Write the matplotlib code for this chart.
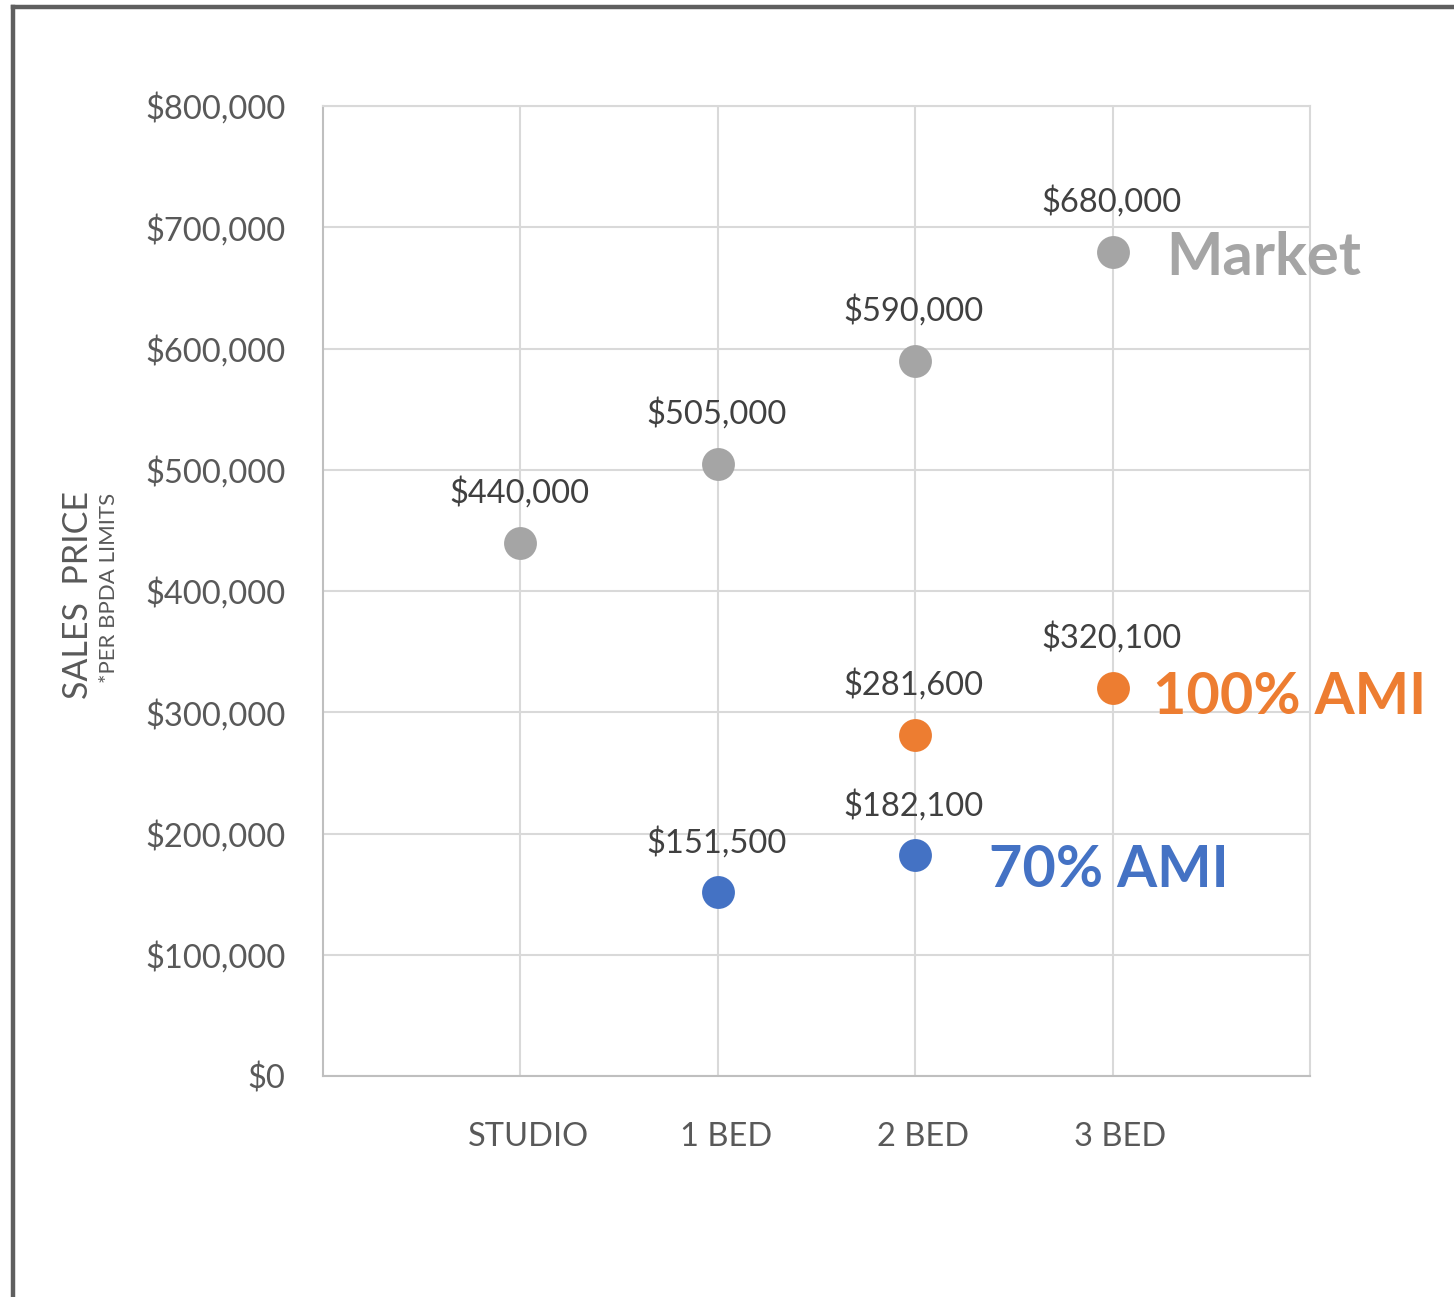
import matplotlib
matplotlib.use("Agg")
import matplotlib.pyplot as plt
import matplotlib.transforms as mtransforms
from matplotlib.lines import Line2D

plt.rcParams['font.family'] = ['Lato', 'DejaVu Sans']

categories = ["STUDIO", "1 BED", "2 BED", "3 BED"]
market_x = ["STUDIO", "1 BED", "2 BED", "3 BED"]
market_y = [440000, 505000, 590000, 680000]
ami100_x = ["2 BED", "3 BED"]
ami100_y = [281600, 320100]
ami70_x = ["1 BED", "2 BED"]
ami70_y = [151500, 182100]
y_ticks = [0, 100000, 200000, 300000, 400000, 500000, 600000, 700000, 800000]

pos = {c: i + 1 for i, c in enumerate(categories)}

fig = plt.figure(figsize=(14.54, 12.97), dpi=100)
ax = fig.add_axes([323/1454, 1 - 1076/1297, (1310-323)/1454, (1076-106)/1297])

grey = "#A5A5A5"
orange = "#ED7D31"
blue = "#4472C4"
label_col = "#404040"
tick_col = "#595959"

series = [(market_x, market_y, grey), (ami100_x, ami100_y, orange), (ami70_x, ami70_y, blue)]
for xs, ys, col in series:
    xv = [pos[c] for c in xs]
    ax.scatter(xv, ys, s=560, color=col, zorder=3, linewidths=0)
    for x, y in zip(xv, ys):
        ax.annotate(f"${y:,.0f}", (x, y), xytext=(-1, 36), textcoords="offset points",
                    ha="center", va="center", fontsize=23.5, color=label_col)

ax.set_xlim(0, 5)
ax.set_ylim(0, 800000)
ax.set_xticks([pos[c] for c in categories])
ax.set_xticklabels(categories)
ax.set_yticks(y_ticks)
ax.set_yticklabels([f"${v:,.0f}" for v in y_ticks])
ax.tick_params(axis="both", length=0, labelsize=23.5, labelcolor=tick_col)
ax.tick_params(axis="x", pad=33)
ax.tick_params(axis="y", pad=27)
offset = mtransforms.ScaledTranslation(8/100, 0, fig.dpi_scale_trans)
for lab in ax.get_xticklabels():
    lab.set_transform(lab.get_transform() + offset)

ax.grid(True, color="#D9D9D9", linewidth=1.5, zorder=0)
ax.set_axisbelow(True)
for s in ax.spines.values():
    s.set_color("#D9D9D9")
    s.set_linewidth(1.5)
ax.spines["left"].set_color("#BFBFBF")
ax.spines["bottom"].set_color("#BFBFBF")

ax.text(4.27, 675000, "Market", fontsize=43, fontweight="bold", color=grey,
        ha="left", va="center")
ax.text(4.205, 311800, "100% AMI", fontsize=41.5, fontweight="bold", color=orange,
        ha="left", va="center")
ax.text(3.375, 169800, "70% AMI", fontsize=41.5, fontweight="bold", color=blue,
        ha="left", va="center")

fig.text(78/1454, 1 - 595/1297, "SALES  PRICE", rotation=90, fontsize=24.5,
         color=tick_col, ha="center", va="center")
fig.text(109/1454, 1 - 588/1297, "*PER BPDA LIMITS", rotation=90, fontsize=16,
         color=tick_col, ha="center", va="center")

# outer frame (top and left)
fig.add_artist(Line2D([13/1454, 13/1454], [0, 1 - 7/1297], transform=fig.transFigure,
                      color="#5F5F5F", linewidth=3.2, solid_capstyle="projecting"))
fig.add_artist(Line2D([13/1454, 1], [1 - 7/1297, 1 - 7/1297], transform=fig.transFigure,
                      color="#5F5F5F", linewidth=3.2, solid_capstyle="projecting"))

fig.savefig("out.png", dpi=100, facecolor="white")
